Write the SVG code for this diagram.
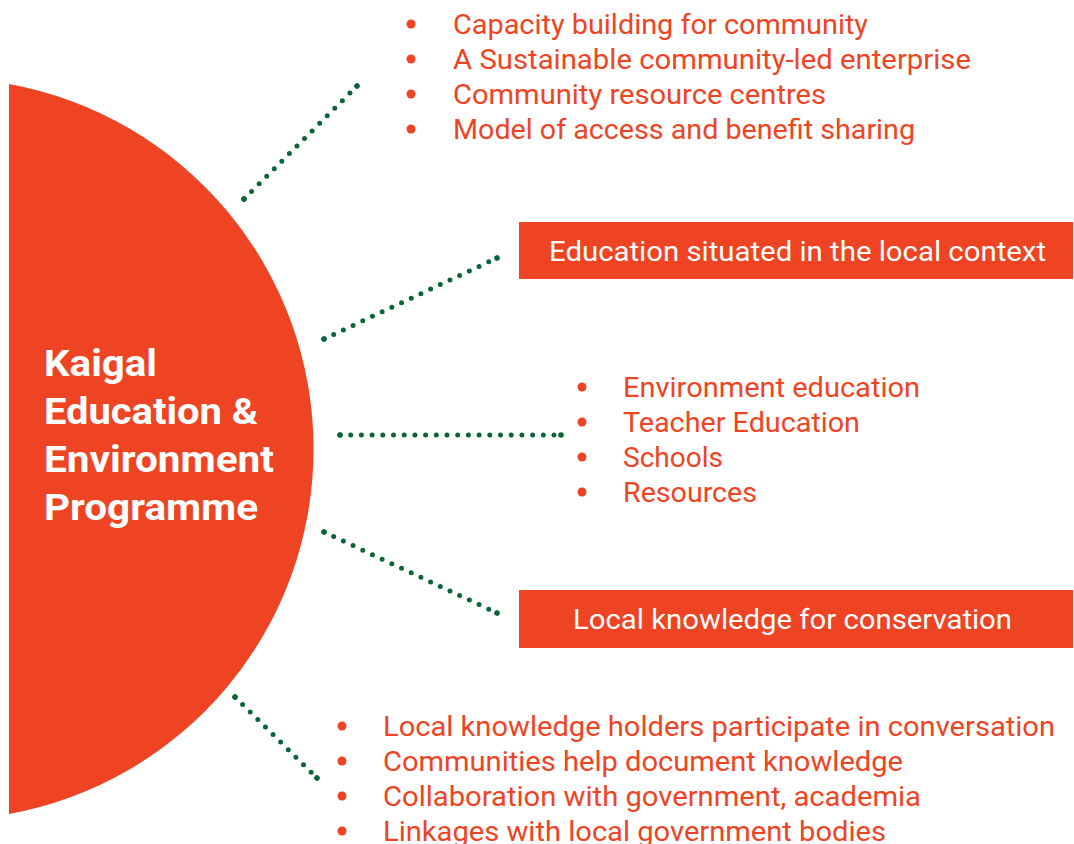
<svg xmlns="http://www.w3.org/2000/svg" width="1074" height="844" viewBox="0 0 1074 844">
<style>
.bg{fill:#ffffff}
.org{fill:#EF4423}
.t{font-family:Roboto,"Liberation Sans",sans-serif;font-size:28px;fill:#EF4423}
.w{font-family:Roboto,"Liberation Sans",sans-serif;font-size:28px;fill:#ffffff}
.ti{font-family:Roboto,"Liberation Sans",sans-serif;font-size:37px;font-weight:bold;fill:#ffffff}
.dot{stroke:#0A6535;stroke-width:5;stroke-linecap:round;stroke-dasharray:0 10.7;fill:none;marker-start:url(#d);marker-end:url(#d)}
</style>
<defs>
<marker id="d" markerUnits="userSpaceOnUse" markerWidth="8" markerHeight="8" refX="4" refY="4" orient="auto">
<circle cx="4" cy="4" r="2.8" fill="#0A6535"/>
</marker>
</defs>
<rect class="bg" x="0" y="0" width="1074" height="844"/>
<g id="hub">
<path class="org" d="M9,84 A371,371 0 0 1 9,814 Z"/>
<text class="ti" x="44" y="376" textLength="113" lengthAdjust="spacingAndGlyphs">Kaigal</text>
<text class="ti" x="44" y="424" textLength="214" lengthAdjust="spacingAndGlyphs">Education &amp;</text>
<text class="ti" x="44" y="472" textLength="230" lengthAdjust="spacingAndGlyphs">Environment</text>
<text class="ti" x="44" y="520" textLength="214" lengthAdjust="spacingAndGlyphs">Programme</text>
</g>
<g id="connectors">
<line class="dot" x1="244" y1="199" x2="357" y2="86"/>
<line class="dot" x1="324" y1="339" x2="497" y2="258"/>
<line class="dot" x1="340" y1="435" x2="561" y2="435"/>
<line class="dot" x1="324" y1="532" x2="497" y2="613"/>
<line class="dot" x1="235" y1="697" x2="317" y2="778"/>
</g>
<g id="community">
<circle class="org" cx="411" cy="24" r="4.5"/>
<circle class="org" cx="411" cy="59" r="4.5"/>
<circle class="org" cx="411" cy="94" r="4.5"/>
<circle class="org" cx="411" cy="129" r="4.5"/>
<text class="t" x="453" y="34" textLength="415" lengthAdjust="spacingAndGlyphs">Capacity building for community</text>
<text class="t" x="453" y="69" textLength="518" lengthAdjust="spacingAndGlyphs">A Sustainable community-led enterprise</text>
<text class="t" x="453" y="104" textLength="373" lengthAdjust="spacingAndGlyphs">Community resource centres</text>
<text class="t" x="453" y="139" textLength="462" lengthAdjust="spacingAndGlyphs">Model of access and benefit sharing</text>
</g>
<g id="education-box">
<rect class="org" x="519" y="222" width="554" height="57"/>
<text class="w" x="549" y="261" textLength="497" lengthAdjust="spacingAndGlyphs">Education situated in the local context</text>
</g>
<g id="education">
<circle class="org" cx="582" cy="387" r="4.5"/>
<circle class="org" cx="582" cy="422" r="4.5"/>
<circle class="org" cx="582" cy="457" r="4.5"/>
<circle class="org" cx="582" cy="492" r="4.5"/>
<text class="t" x="623" y="397" textLength="297" lengthAdjust="spacingAndGlyphs">Environment education</text>
<text class="t" x="623" y="432" textLength="237" lengthAdjust="spacingAndGlyphs">Teacher Education</text>
<text class="t" x="623" y="467" textLength="100" lengthAdjust="spacingAndGlyphs">Schools</text>
<text class="t" x="623" y="502" textLength="134" lengthAdjust="spacingAndGlyphs">Resources</text>
</g>
<g id="knowledge-box">
<rect class="org" x="519" y="590" width="554" height="58"/>
<text class="w" x="573" y="629" textLength="439" lengthAdjust="spacingAndGlyphs">Local knowledge for conservation</text>
</g>
<g id="knowledge">
<circle class="org" cx="342" cy="726" r="4.5"/>
<circle class="org" cx="342" cy="761" r="4.5"/>
<circle class="org" cx="342" cy="796" r="4.5"/>
<circle class="org" cx="342" cy="831" r="4.5"/>
<text class="t" x="383" y="736" textLength="672" lengthAdjust="spacingAndGlyphs">Local knowledge holders participate in conversation</text>
<text class="t" x="383" y="771" textLength="520" lengthAdjust="spacingAndGlyphs">Communities help document knowledge</text>
<text class="t" x="383" y="806" textLength="538" lengthAdjust="spacingAndGlyphs">Collaboration with government, academia</text>
<text class="t" x="383" y="841" textLength="503" lengthAdjust="spacingAndGlyphs">Linkages with local government bodies</text>
</g>
</svg>
